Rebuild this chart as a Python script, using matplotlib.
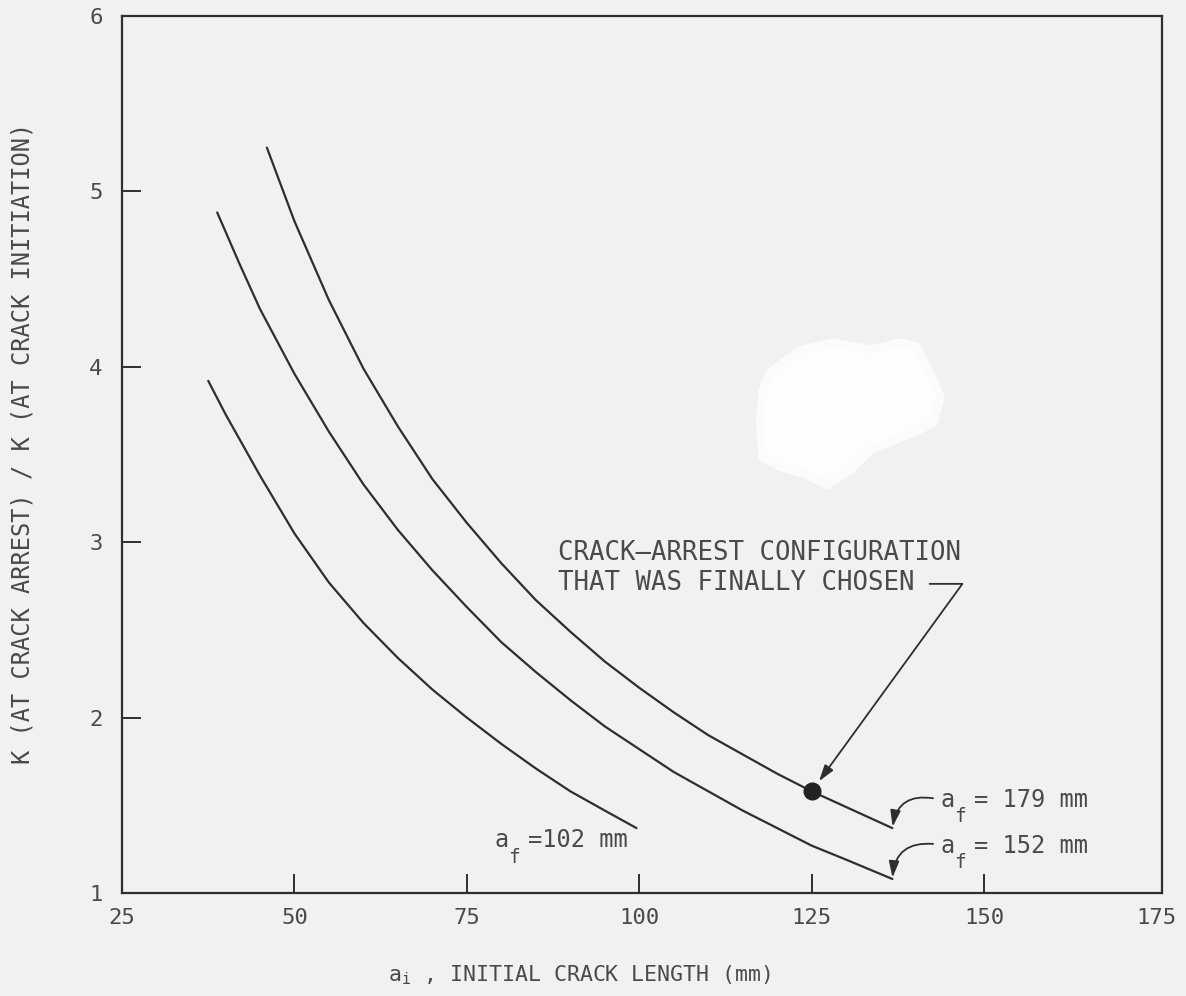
import matplotlib
matplotlib.use('Agg')
import matplotlib.pyplot as plt
from matplotlib.patches import Polygon

plt.rcParams['font.family'] = 'DejaVu Sans Mono'

paper = '#f1f1ef'
ink = '#2e2e2e'
text_ink = '#4a4a4a'

# K ratio curves for three final crack lengths (a_f)
a_i_102 = [37.5, 40, 45, 50, 55, 60, 65, 70, 75, 80, 85, 90, 95, 99.6]
k_102 = [3.92, 3.73, 3.38, 3.05, 2.77, 2.54, 2.34, 2.16, 2.00, 1.85, 1.71, 1.58, 1.47, 1.37]

a_i_152 = [38.8, 42, 45, 50, 55, 60, 65, 70, 75, 80, 85, 90, 95, 100,
           105, 110, 115, 120, 125, 130, 136.7]
k_152 = [4.88, 4.59, 4.33, 3.96, 3.63, 3.33, 3.07, 2.84, 2.63, 2.43, 2.26, 2.10, 1.95, 1.82,
         1.69, 1.58, 1.47, 1.37, 1.27, 1.19, 1.08]

a_i_179 = [46, 50, 55, 60, 65, 70, 75, 80, 85, 90, 95, 100,
           105, 110, 115, 120, 125, 130, 136.7]
k_179 = [5.25, 4.83, 4.38, 3.99, 3.66, 3.36, 3.11, 2.88, 2.67, 2.49, 2.32, 2.17,
         2.03, 1.90, 1.79, 1.68, 1.58, 1.49, 1.37]

chosen_a_i = 125
chosen_k = 1.58

x_ticks = [25, 50, 75, 100, 125, 150, 175]
y_ticks = [1, 2, 3, 4, 5, 6]

fig = plt.figure(figsize=(11.86, 9.96), dpi=100, facecolor=paper)
ax = fig.add_axes([0.1029, 0.1034, 0.8769, 0.8805])
ax.set_facecolor(paper)

for xs, ys in [(a_i_102, k_102), (a_i_152, k_152), (a_i_179, k_179)]:
    ax.plot(xs, ys, color=ink, lw=1.6, solid_capstyle='round')

ax.plot(chosen_a_i, chosen_k, 'o', ms=12, color='#222222', mec='#222222')

# frame runs a little past the 175 tick
ax.set_xlim(25, 175.8)
ax.set_ylim(1, 6)
ax.set_xticks(x_ticks)
ax.set_yticks(y_ticks)
ax.tick_params(axis='both', direction='in', length=14, width=1.4, color=ink,
               labelsize=16, labelcolor=text_ink, top=False, right=False)
ax.tick_params(axis='x', pad=11)
ax.tick_params(axis='y', pad=14)
ax.xaxis.get_major_ticks()[-1].tick1line.set_visible(False)
for s in ax.spines.values():
    s.set_linewidth(1.6)
    s.set_color(ink)

ax.set_ylabel('K (AT CRACK ARREST) / K (AT CRACK INITIATION)', fontsize=17,
              color=text_ink)
ax.yaxis.set_label_coords(-0.084, 0.513)
ax.set_xlabel(r'$\mathregular{a_i}$ , INITIAL CRACK LENGTH (mm)', fontsize=15.5,
              color=text_ink)
ax.xaxis.set_label_coords(0.44, -0.08)

# final crack length labels
arrow_kw = dict(arrowstyle='-|>,head_length=0.7,head_width=0.22', color=ink,
                lw=1.3, mutation_scale=14, shrinkA=0, shrinkB=1)


def af_label(x, y, rest):
    ax.annotate('a', (x, y), xytext=(0, 0), textcoords='offset points',
                ha='left', va='center', fontsize=17, color=text_ink)
    ax.annotate('f', (x, y), xytext=(10, -12), textcoords='offset points',
                ha='left', va='center', fontsize=14, color=text_ink)
    ax.annotate(rest, (x, y), xytext=(24, 0), textcoords='offset points',
                ha='left', va='center', fontsize=17, color=text_ink)


af_label(143.7, 1.53, '= 179 mm')
af_label(143.7, 1.27, '= 152 mm')
af_label(79.0, 1.30, '=102 mm')

ax.annotate('', xy=(a_i_179[-1], k_179[-1]), xytext=(142.6, 1.54),
            arrowprops=dict(connectionstyle='arc3,rad=0.5', **arrow_kw))
ax.annotate('', xy=(a_i_152[-1], k_152[-1]), xytext=(142.6, 1.28),
            arrowprops=dict(connectionstyle='arc3,rad=0.5', **arrow_kw))

ax.text(88.2, 2.94, 'CRACK–ARREST CONFIGURATION', fontsize=18.5,
        color=text_ink, ha='left', va='center')
ax.annotate('THAT WAS FINALLY CHOSEN', xy=(chosen_a_i, chosen_k),
            xytext=(88.2, 2.77), textcoords='data', fontsize=18.5,
            color=text_ink, ha='left', va='center',
            arrowprops=dict(arrowstyle='-|>,head_length=0.7,head_width=0.22',
                            connectionstyle='angle,angleA=0,angleB=54,rad=0',
                            relpos=(1.0, 0.45), shrinkA=9, shrinkB=9,
                            color=ink, lw=1.3, mutation_scale=14))

# white blemish on the paper
blot = [(0.649, 0.626), (0.675, 0.649), (0.702, 0.656), (0.734, 0.649),
        (0.759, 0.656), (0.773, 0.652), (0.784, 0.626), (0.793, 0.601),
        (0.787, 0.575), (0.761, 0.561), (0.734, 0.548), (0.717, 0.528),
        (0.697, 0.513), (0.677, 0.525), (0.658, 0.531), (0.643, 0.541),
        (0.641, 0.575), (0.643, 0.608)]
fig.patches.append(Polygon(blot, closed=True, transform=fig.transFigure,
                           facecolor='#fdfdfd', edgecolor='#fbfbfb', lw=6,
                           joinstyle='round', zorder=5))

fig.savefig('out.png', dpi=100, facecolor=paper)
